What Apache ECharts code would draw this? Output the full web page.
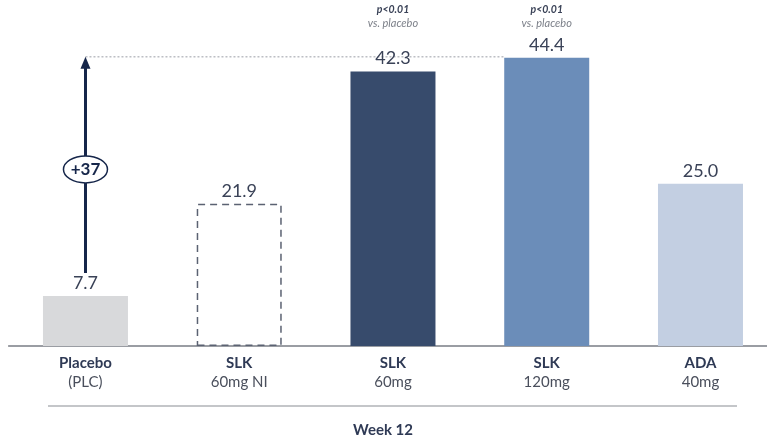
<!DOCTYPE html>
<html>
<head>
<meta charset="utf-8">
<script src="https://cdn.jsdelivr.net/npm/echarts@6/dist/echarts.min.js"></script>
<style>
  html, body { margin: 0; padding: 0; background: #ffffff; }
  #chart { width: 767px; height: 441px; }
</style>
</head>
<body>
<div id="chart"></div>
<script>
// Week 12 response by treatment arm
const groupNames = ['Placebo', 'SLK', 'SLK', 'SLK', 'ADA'];
const doseLabels = ['(PLC)', '60mg NI', '60mg', '120mg', '40mg'];
const responseValues = [7.7, 21.9, 42.3, 44.4, 25.0];
const barColors = ['#d8d9db', 'transparent', '#374b6c', '#6b8db9', '#c3cfe2'];
const significance = [null, null, 'p<0.01', 'p<0.01', null];
const timepointLabel = 'Week 12';

const FONT = 'Lato, "Open Sans", sans-serif';
const categories = groupNames.map((g, i) => g + '\n' + doseLabels[i]);

const chart = echarts.init(document.getElementById('chart'));

const barData = responseValues.map((v, i) => {
  const item = { value: v, itemStyle: { color: barColors[i] } };
  if (i === 1) {
    // non-inferiority arm: outlined with a dashed border
    item.itemStyle = {
      color: 'rgba(255,255,255,0)',
      borderColor: '#5b6272',
      borderWidth: 1.5,
      borderType: [7, 5]
    };
  }
  return item;
});

chart.setOption({
  animation: false,
  grid: { left: 8.6, width: 768.75, top: 21.5, bottom: 95, outerBoundsMode: 'none', containLabel: false },
  xAxis: {
    type: 'category',
    data: categories,
    axisLine: { lineStyle: { color: '#7a7d85', width: 1.5 } },
    axisTick: { show: false },
    axisLabel: {
      margin: 8,
      interval: 0,
      formatter: (val) => {
        const parts = val.split('\n');
        return '{g|' + parts[0] + '}\n{d|' + parts[1] + '}';
      },
      rich: {
        g: { fontFamily: FONT, fontSize: 15, fontWeight: 'bold', color: '#2f3a55', lineHeight: 19 },
        d: { fontFamily: FONT, fontSize: 15, color: '#4a4f5c', lineHeight: 19 }
      }
    }
  },
  yAxis: { type: 'value', min: 0, max: 50, show: false, splitLine: { show: false } },
  series: [{
    type: 'bar',
    barWidth: 85,
    data: barData,
    label: {
      show: true,
      position: 'top',
      distance: 4,
      fontFamily: FONT,
      fontSize: 18,
      color: '#3a4257',
      formatter: (p) => p.value.toFixed(1)
    }
  }]
});

// Annotations placed through the chart's own coordinate system
function drawAnnotations() {
  const plcIdx = 0;
  const topIdx = responseValues.indexOf(Math.max(...responseValues));
  const plcX = chart.convertToPixel({ gridIndex: 0 }, [plcIdx, 0])[0];
  const plcTopY = chart.convertToPixel({ gridIndex: 0 }, [plcIdx, responseValues[plcIdx]])[1];
  const peakY = chart.convertToPixel({ gridIndex: 0 }, [topIdx, responseValues[topIdx]])[1];
  const peakBarLeft = chart.convertToPixel({ gridIndex: 0 }, [topIdx, 0])[0] - 42.5;
  const baseY = chart.convertToPixel({ gridIndex: 0 }, [0, 0])[1];

  const arrowStart = plcTopY - 23;
  const arrowEnd = peakY;
  const midY = (arrowStart + arrowEnd) / 2 + 4;
  const diff = Math.round(responseValues[topIdx] - responseValues[plcIdx]);

  const elements = [
    // dotted reference line at the peak value
    {
      type: 'line', silent: true,
      shape: { x1: plcX, y1: peakY - 1, x2: peakBarLeft, y2: peakY - 1 },
      style: { stroke: '#9a9ea6', lineWidth: 1, lineDash: [2, 2] }
    },
    // arrow shaft
    {
      type: 'line', silent: true,
      shape: { x1: plcX, y1: arrowStart, x2: plcX, y2: arrowEnd + 8 },
      style: { stroke: '#16264a', lineWidth: 3 }
    },
    // arrow head
    {
      type: 'polygon', silent: true,
      shape: { points: [[plcX, arrowEnd - 1], [plcX - 5, arrowEnd + 11], [plcX + 5, arrowEnd + 11]] },
      style: { fill: '#16264a' }
    },
    // difference badge
    {
      type: 'ellipse', silent: true,
      shape: { cx: plcX, cy: midY, rx: 22, ry: 13.5 },
      style: { fill: '#ffffff', stroke: '#16264a', lineWidth: 1.5 }
    },
    {
      type: 'text', silent: true,
      x: plcX, y: midY,
      style: {
        text: '+' + diff, fill: '#16264a', font: 'bold 17px ' + FONT,
        align: 'center', verticalAlign: 'middle'
      }
    },
    // separator above the timepoint label
    {
      type: 'line', silent: true,
      shape: { x1: 48, y1: baseY + 60, x2: 737, y2: baseY + 60 },
      style: { stroke: '#8a8d94', lineWidth: 1.2 }
    },
    {
      type: 'text', silent: true,
      x: 383, y: baseY + 84,
      style: {
        text: timepointLabel, fill: '#2f3a55', font: 'bold 15px ' + FONT,
        align: 'center', verticalAlign: 'middle'
      }
    }
  ];

  significance.forEach((s, i) => {
    if (!s) return;
    const x = chart.convertToPixel({ gridIndex: 0 }, [i, 0])[0];
    elements.push({
      type: 'text', silent: true, x: x, y: 10,
      style: { text: s, fill: '#3a4257', font: 'italic bold 10.5px ' + FONT, align: 'center', verticalAlign: 'middle' }
    });
    elements.push({
      type: 'text', silent: true, x: x, y: 23,
      style: { text: 'vs. placebo', fill: '#7b7f88', font: 'italic 11px ' + FONT, align: 'center', verticalAlign: 'middle' }
    });
  });

  chart.setOption({ graphic: { elements: elements } });
}
drawAnnotations();
</script>
</body>
</html>
